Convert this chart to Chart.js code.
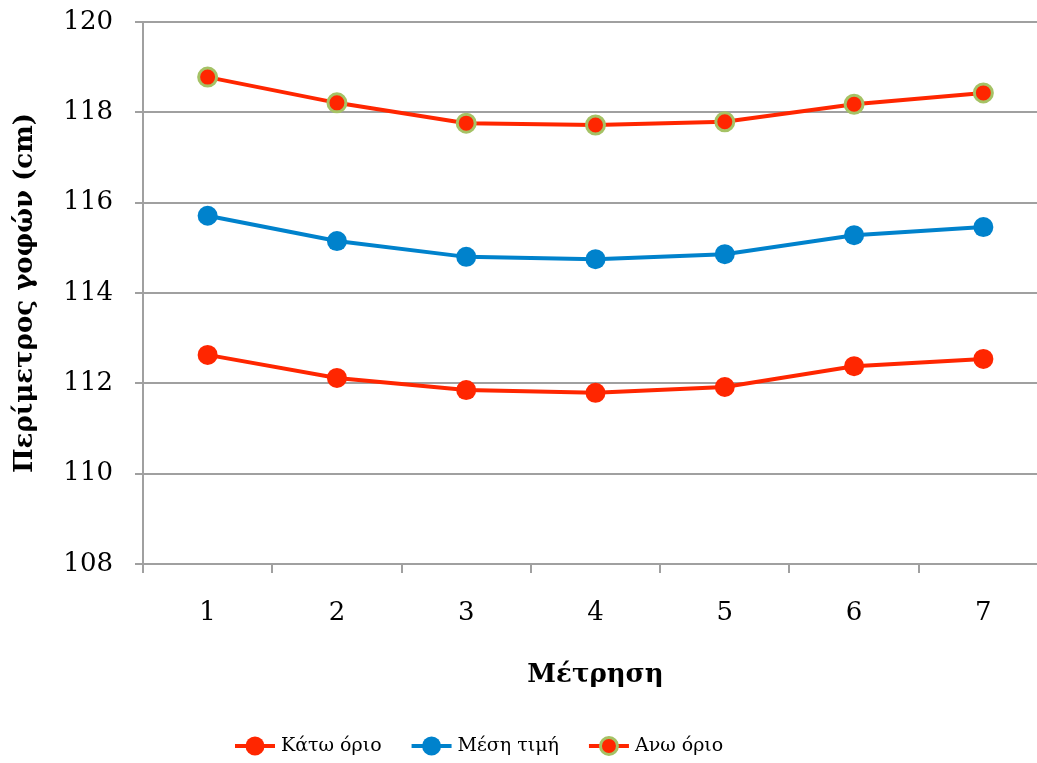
<!DOCTYPE html>
<html>
<head>
<meta charset="utf-8">
<script src="https://cdn.jsdelivr.net/npm/chart.js@4.4.1/dist/chart.umd.min.js"></script>
<style>
  html, body { margin: 0; padding: 0; background: #fff; overflow: hidden; }
  #chart1 { display: block; }
</style>
</head>
<body>
<canvas id="chart1" width="1048" height="763"></canvas>
<script>
"use strict";

var categories = ['1', '2', '3', '4', '5', '6', '7'];
var lowerLimit = [112.63, 112.12, 111.85, 111.79, 111.92, 112.38, 112.54];
var meanValue = [115.71, 115.15, 114.80, 114.75, 114.86, 115.28, 115.46];
var upperLimit = [118.78, 118.21, 117.76, 117.72, 117.79, 118.18, 118.43];
var seriesNames = ['Κάτω όριο', 'Μέση τιμή', 'Ανω όριο'];

var RED = '#ff2600';
var BLUE = '#0082cc';
var GREEN = '#a5c265';
var GRID = '#a0a0a0';
var FONT = "'DejaVu Serif', serif";

// legend drawn like the original: short line with marker in the middle
var lineLegend = {
    id: 'lineLegend',
    afterDraw: function (chart) {
        var ctx = chart.ctx;
        var y = 746;
        var lineLen = 40, gap = 6, spacing = 30;
        var x = 235;
        ctx.save();
        ctx.font = '19px ' + FONT;
        chart.data.datasets.forEach(function (ds) {
            ctx.strokeStyle = ds.borderColor;
            ctx.lineWidth = 4;
            ctx.beginPath();
            ctx.moveTo(x, y);
            ctx.lineTo(x + lineLen, y);
            ctx.stroke();
            ctx.beginPath();
            ctx.arc(x + lineLen / 2, y, ds.pointRadius - 0.5, 0, Math.PI * 2);
            ctx.fillStyle = ds.pointBackgroundColor;
            ctx.fill();
            if (ds.pointBorderWidth > 0) {
                ctx.lineWidth = ds.pointBorderWidth;
                ctx.strokeStyle = ds.pointBorderColor;
                ctx.stroke();
            }
            ctx.fillStyle = '#000';
            ctx.textAlign = 'left';
            ctx.textBaseline = 'middle';
            ctx.fillText(ds.label, x + lineLen + gap, y);
            x += lineLen + gap + ctx.measureText(ds.label).width + spacing;
        });
        ctx.restore();
    }
};

var ctx = document.getElementById('chart1').getContext('2d');

var myChart = new Chart(ctx, {
    type: 'line',
    data: {
        labels: categories,
        datasets: [{
            label: seriesNames[0],
            data: lowerLimit,
            borderColor: RED,
            backgroundColor: RED,
            pointBackgroundColor: RED,
            pointBorderColor: RED,
            pointBorderWidth: 0,
            pointRadius: 10,
            borderWidth: 4,
            fill: false
        }, {
            label: seriesNames[1],
            data: meanValue,
            borderColor: BLUE,
            backgroundColor: BLUE,
            pointBackgroundColor: BLUE,
            pointBorderColor: BLUE,
            pointBorderWidth: 0,
            pointRadius: 10,
            borderWidth: 4,
            fill: false
        }, {
            label: seriesNames[2],
            data: upperLimit,
            borderColor: RED,
            backgroundColor: RED,
            pointBackgroundColor: RED,
            pointBorderColor: GREEN,
            pointBorderWidth: 3,
            pointRadius: 9,
            borderWidth: 4,
            fill: false
        }]
    },
    options: {
        responsive: false,
        animation: false,
        layout: {
            autoPadding: false,
            padding: { top: 22, bottom: 65, left: 0, right: 0 }
        },
        plugins: {
            legend: { display: false },
            tooltip: { enabled: false }
        },
        scales: {
            x: {
                offset: true,
                grid: {
                    offset: true,
                    drawOnChartArea: false,
                    color: GRID,
                    lineWidth: 2,
                    tickLength: 9
                },
                border: { color: GRID, width: 2 },
                ticks: {
                    color: '#000',
                    padding: 25,
                    font: { family: FONT, size: 26 }
                },
                title: {
                    display: true,
                    text: 'Μέτρηση',
                    color: '#000',
                    padding: { top: 0, bottom: 7 },
                    font: { family: FONT, size: 26, weight: 'bold' }
                },
                afterFit: function (scale) {
                    scale.height = 134;
                    scale.paddingLeft = 0;
                    scale.paddingRight = 0;
                }
            },
            y: {
                min: 108,
                max: 120,
                ticks: {
                    stepSize: 2,
                    color: '#000',
                    padding: 22,
                    font: { family: FONT, size: 26 }
                },
                grid: {
                    color: GRID,
                    lineWidth: 2,
                    tickLength: 8
                },
                border: { color: GRID, width: 2 },
                title: {
                    display: true,
                    text: 'Περίμετρος γοφών (cm)',
                    color: '#000',
                    padding: { top: 10, bottom: 0 },
                    font: { family: FONT, size: 26, weight: 'bold' }
                },
                afterFit: function (scale) {
                    scale.width = 143;
                    scale.paddingTop = 0;
                    scale.paddingBottom = 0;
                }
            }
        }
    },
    plugins: [lineLegend]
});
</script>
</body>
</html>
